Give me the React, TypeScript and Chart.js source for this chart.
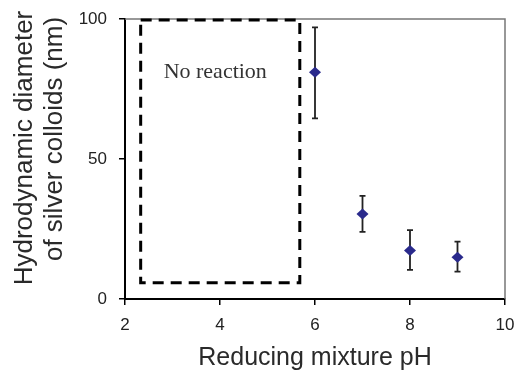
import React, { useEffect, useRef } from "react";
import { Chart, registerables } from "chart.js";

Chart.register(...registerables);

const phValues = [6, 7, 8, 9];
const diameters = [81, 30.4, 17.3, 14.9];
const errUpper = [97, 36.8, 24.6, 20.5];
const errLower = [64.5, 24, 10.4, 9.8];
const xTicks = [2, 4, 6, 8, 10];
const yTicks = [0, 50, 100];
const noReactionBox = [2.33, 5.68, 5.8, 100]; // xMin, xMax, yMin, yMax
const noReactionLabel = "No reaction";
const xTitle = "Reducing mixture pH";
const yTitleLines = ["Hydrodynamic diameter", "of silver colloids (nm)"];

const SANS = "'Liberation Sans', Arial, sans-serif";

const overlayPlugin = {
  id: "overlay",
  afterDatasetsDraw(chart: any) {
    const { ctx, chartArea, scales } = chart;
    const xs = scales.x;
    const ys = scales.y;
    ctx.save();
    // top/right frame
    ctx.strokeStyle = "#777";
    ctx.lineWidth = 1.5;
    ctx.beginPath();
    ctx.moveTo(chartArea.left, chartArea.top);
    ctx.lineTo(chartArea.right, chartArea.top);
    ctx.lineTo(chartArea.right, chartArea.bottom);
    ctx.stroke();

    // dashed box
    const [bx0, bx1, by0, by1] = noReactionBox;
    const l = xs.getPixelForValue(bx0);
    const r = xs.getPixelForValue(bx1);
    const b = ys.getPixelForValue(by0);
    const t = ys.getPixelForValue(by1);
    ctx.strokeStyle = "#000";
    ctx.lineWidth = 3;
    ctx.setLineDash([11, 7]);
    ctx.strokeRect(l, t + 1, r - l, b - t - 1);
    ctx.setLineDash([]);

    // label
    ctx.fillStyle = "#333";
    ctx.font = "22px 'Liberation Serif', 'Times New Roman', serif";
    ctx.textAlign = "center";
    ctx.textBaseline = "middle";
    ctx.fillText(noReactionLabel, xs.getPixelForValue(3.9), ys.getPixelForValue(81));

    // error bars
    ctx.strokeStyle = "#222";
    ctx.lineWidth = 1.8;
    for (let i = 0; i < phValues.length; i++) {
      const x = xs.getPixelForValue(phValues[i]);
      const yt = ys.getPixelForValue(errUpper[i]);
      const yb = ys.getPixelForValue(errLower[i]);
      ctx.beginPath();
      ctx.moveTo(x, yt);
      ctx.lineTo(x, yb);
      ctx.moveTo(x - 3, yt);
      ctx.lineTo(x + 3, yt);
      ctx.moveTo(x - 3, yb);
      ctx.lineTo(x + 3, yb);
      ctx.stroke();
    }
    // diamonds on top
    const meta = chart.getDatasetMeta(0);
    ctx.fillStyle = "#2a2a8c";
    meta.data.forEach((pt: any) => {
      ctx.beginPath();
      ctx.moveTo(pt.x, pt.y - 5.5);
      ctx.lineTo(pt.x + 6, pt.y);
      ctx.lineTo(pt.x, pt.y + 5.5);
      ctx.lineTo(pt.x - 6, pt.y);
      ctx.closePath();
      ctx.fill();
    });

    // axis titles
    const cx = (chartArea.left + chartArea.right) / 2;
    ctx.fillStyle = "#2a2a2a";
    ctx.font = `25px ${SANS}`;
    ctx.textAlign = "center";
    ctx.textBaseline = "alphabetic";
    ctx.fillText(xTitle, cx, chartArea.bottom + 66);

    ctx.font = `26px ${SANS}`;
    const cy = (chartArea.top + chartArea.bottom) / 2;
    const baselines = [32, 62];
    const shifts = [-11, -20];
    yTitleLines.forEach((line, i) => {
      ctx.save();
      ctx.translate(baselines[i], cy + shifts[i]);
      ctx.rotate(-Math.PI / 2);
      ctx.fillText(line, 0, 0);
      ctx.restore();
    });
    ctx.restore();
  },
};

export default function App() {
  const ref = useRef<HTMLCanvasElement>(null);
  useEffect(() => {
    if (!ref.current) return;
    const chart = new Chart(ref.current, {
      type: "scatter",
      data: {
        datasets: [
          {
            data: phValues.map((x, i) => ({ x, y: diameters[i] })),
            pointRadius: 0,
            backgroundColor: "#2a2a8c",
            borderColor: "#2a2a8c",
          },
        ],
      },
      options: {
        animation: false,
        responsive: false,
        maintainAspectRatio: false,
        layout: { padding: { top: 19, right: 11, left: 0, bottom: 0 } },
        plugins: { legend: { display: false }, tooltip: { enabled: false } },
        scales: {
          x: {
            type: "linear",
            min: 2,
            max: 10,
            afterBuildTicks: (s: any) => {
              s.ticks = xTicks.map((v) => ({ value: v }));
            },
            afterFit: (s: any) => {
              s.height = 71;
              s.paddingLeft = 0;
              s.paddingRight = 0;
            },
            grid: {
              display: true,
              drawOnChartArea: false,
              drawTicks: true,
              tickLength: 6,
              color: "#000",
              lineWidth: 1.5,
            },
            border: { display: true, color: "#000", width: 2 },
            ticks: {
              color: "#222",
              font: { family: SANS, size: 17 },
              padding: 10,
            },
          },
          y: {
            type: "linear",
            min: 0,
            max: 100,
            afterBuildTicks: (s: any) => {
              s.ticks = yTicks.map((v) => ({ value: v }));
            },
            afterFit: (s: any) => {
              s.width = 125;
              s.paddingTop = 0;
              s.paddingBottom = 0;
            },
            grid: {
              display: true,
              drawOnChartArea: false,
              drawTicks: true,
              tickLength: 6,
              color: "#000",
              lineWidth: 1.5,
            },
            border: { display: true, color: "#000", width: 2 },
            ticks: {
              color: "#222",
              font: { family: SANS, size: 17 },
              padding: 12,
            },
          },
        },
      },
      plugins: [overlayPlugin],
    });
    return () => chart.destroy();
  }, []);
  return (
    <div style={{ position: "fixed", left: 0, top: 0, width: 516, height: 370, background: "#fff" }}>
      <canvas ref={ref} width={516} height={370} style={{ width: 516, height: 370 }} />
    </div>
  );
}
